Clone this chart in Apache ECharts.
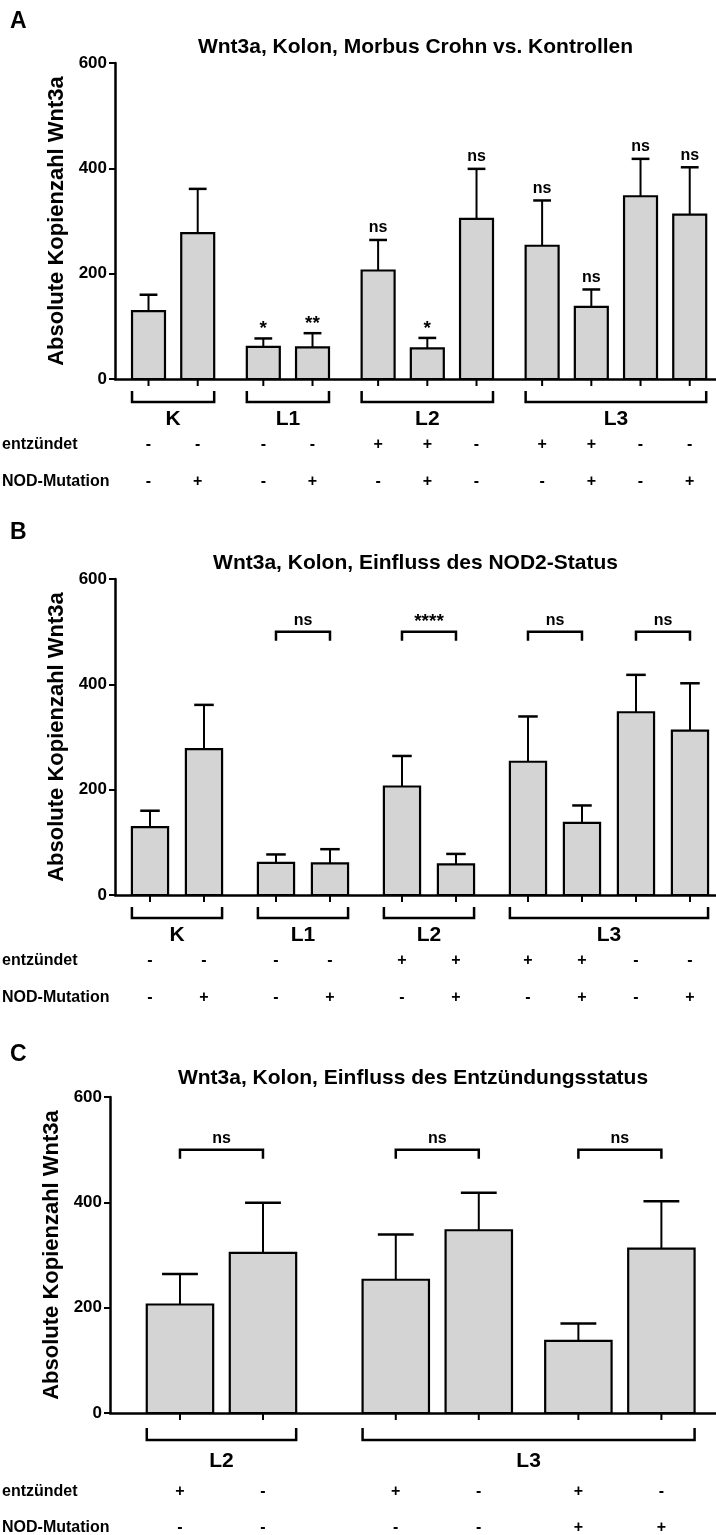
<!DOCTYPE html>
<html><head><meta charset="utf-8">
<script src="https://cdn.jsdelivr.net/npm/echarts@6/dist/echarts.min.js"></script>
<style>html,body{margin:0;padding:0;background:#fff}#c{width:716px;height:1535px}</style>
</head><body><div id="c"></div>
<script>
// ---------- data ----------
const groupNames = ['K', 'L1', 'L2', 'L3'];
const condGroup = [0, 0, 1, 1, 2, 2, 2, 3, 3, 3, 3];
const entzuendet = ['-', '-', '-', '-', '+', '+', '-', '+', '+', '-', '-'];
const nodMutation = ['-', '+', '-', '+', '-', '+', '-', '-', '+', '-', '+'];
const meanCopies = [129, 277, 61, 60, 206, 58, 304, 253, 137, 347, 312];
const semCopies = [31, 84, 16, 27, 58, 20, 95, 86, 33, 71, 90];
const sigVsControl = ['', '', '*', '**', 'ns', '*', 'ns', 'ns', 'ns', 'ns', 'ns'];
const yTicks = [0, 200, 400, 600];
const panelAConds = [0, 1, 2, 3, 4, 5, 6, 7, 8, 9, 10];
const panelBConds = [0, 1, 2, 3, 4, 5, 7, 8, 9, 10];
const panelBComparisons = [[2, 3, 'ns'], [4, 5, '****'], [7, 8, 'ns'], [9, 10, 'ns']];
const panelCConds = [4, 6, 7, 9, 8, 10];
const panelCComparisons = [[4, 6, 'ns'], [7, 9, 'ns'], [8, 10, 'ns']];
const sigBracketLevel = 500;
const titles = ['Wnt3a, Kolon, Morbus Crohn vs. Kontrollen', 'Wnt3a, Kolon, Einfluss des NOD2-Status', 'Wnt3a, Kolon, Einfluss des Entzündungsstatus'];
const panelLetters = ['A', 'B', 'C'];
const yAxisName = 'Absolute Kopienzahl Wnt3a';
const rowLabels = ['entzündet', 'NOD-Mutation'];

// ---------- layout ----------
const FF = '"Liberation Sans", Arial, Helvetica, sans-serif';
const panels = [
  { conds: panelAConds, comps: [], showSig: true, grid: { left: 115, top: 63, width: 601, height: 316 },
    xMin: -0.681, xMax: 11.534, barW: 0.67, gapGroup: 1 / 3, gapPair: 0,
    off: { brTop: 12, brLine: 23, grp: 40, row1: 66, row2: 103 }, titleY: 47, letterY: 22 },
  { conds: panelBConds, comps: panelBComparisons, showSig: false, grid: { left: 115, top: 579, width: 601, height: 316 },
    xMin: -0.648, xMax: 10.482, barW: 0.67, gapGroup: 1 / 3, gapPair: 0,
    off: { brTop: 12, brLine: 23, grp: 40, row1: 66, row2: 103 }, titleY: 563, letterY: 533 },
  { conds: panelCConds, comps: panelCComparisons, showSig: false, grid: { left: 110, top: 1097, width: 606, height: 316 },
    xMin: -0.843, xMax: 6.458, barW: 0.8, gapGroup: 0.6, gapPair: 0.2,
    off: { brTop: 15, brLine: 27, grp: 48, row1: 79, row2: 115 }, titleY: 1078, letterY: 1055 }
];

function positions(p) {
  const pos = [];
  let x = 0, prevG = -1, inGroup = 0;
  p.conds.forEach((c, i) => {
    const g = condGroup[c];
    if (i > 0) {
      x += 1;
      if (g !== prevG) { x += p.gapGroup; inGroup = 0; }
      else { inGroup++; if (inGroup % 2 === 0) x += p.gapPair; }
    }
    pos.push(x);
    prevG = g;
  });
  return pos;
}

function txt(x, y, text, size, align, valign) {
  return { type: 'text', x: x, y: y, style: { text: text, font: 'bold ' + size + 'px ' + FF, fill: '#000',
    align: align, verticalAlign: valign, textAlign: align, textVerticalAlign: valign } };
}

const grids = [], xAxes = [], yAxes = [], series = [], graphics = [];
panels.forEach((p, pi) => {
  grids.push(Object.assign({ containLabel: false }, p.grid));
  xAxes.push({ type: 'value', gridIndex: pi, min: p.xMin, max: p.xMax,
    axisLine: { show: true, onZero: false, lineStyle: { color: '#000', width: 2.5 } },
    axisTick: { show: false }, axisLabel: { show: false }, splitLine: { show: false } });
  yAxes.push({ type: 'value', gridIndex: pi, min: yTicks[0], max: yTicks[yTicks.length - 1],
    interval: yTicks[1] - yTicks[0],
    name: yAxisName, nameLocation: 'middle', nameGap: 46,
    nameTextStyle: { fontFamily: FF, fontWeight: 'bold', fontSize: 22, color: '#000' },
    axisLine: { show: true, onZero: false, lineStyle: { color: '#000', width: 2.5 } },
    axisTick: { show: true, inside: false, length: 6, lineStyle: { color: '#000', width: 2 } },
    axisLabel: { color: '#000', fontFamily: FF, fontWeight: 'bold', fontSize: 17, margin: 8 },
    splitLine: { show: false } });

  const pos = positions(p);
  const posOf = {};
  p.conds.forEach((c, i) => { posOf[c] = pos[i]; });
  const off = p.off;

  // bars + error bars + axis ticks + condition rows
  series.push({
    type: 'custom', xAxisIndex: pi, yAxisIndex: pi, clip: false,
    data: p.conds.map((c, i) => [pos[i], meanCopies[c], meanCopies[c] + semCopies[c], c]),
    renderItem: function (params, api) {
      const x = api.value(0), m = api.value(1), up = api.value(2), c = api.value(3);
      const p0 = api.coord([x, 0]), pm = api.coord([x, m]), pu = api.coord([x, up]);
      const w = api.size([p.barW, 0])[0];
      const cw = w * 0.54;
      const ch = [
        { type: 'line', shape: { x1: p0[0], y1: pm[1], x2: p0[0], y2: pu[1] }, style: { stroke: '#000', lineWidth: 2 } },
        { type: 'line', shape: { x1: p0[0] - cw / 2, y1: pu[1], x2: p0[0] + cw / 2, y2: pu[1] }, style: { stroke: '#000', lineWidth: 2.5 } },
        { type: 'rect', shape: { x: p0[0] - w / 2, y: pm[1], width: w, height: p0[1] - pm[1] }, style: { fill: '#d4d4d4', stroke: '#000', lineWidth: 2.2 } },
        { type: 'line', shape: { x1: p0[0], y1: p0[1], x2: p0[0], y2: p0[1] + 7 }, style: { stroke: '#000', lineWidth: 2 } },
        txt(p0[0], p0[1] + off.row1, entzuendet[c], 16, 'center', 'middle'),
        txt(p0[0], p0[1] + off.row2, nodMutation[c], 16, 'center', 'middle')
      ];
      if (p.showSig && sigVsControl[c]) {
        const s = sigVsControl[c];
        const isStar = s.indexOf('*') >= 0;
        ch.push(txt(p0[0], pu[1] - (isStar ? 0 : 4), s, isStar ? 19 : 16, 'center', 'bottom'));
      }
      return { type: 'group', children: ch };
    }
  });

  // group brackets below axis
  const groupsHere = [];
  p.conds.forEach((c) => { const g = condGroup[c]; if (groupsHere.indexOf(g) < 0) groupsHere.push(g); });
  series.push({
    type: 'custom', xAxisIndex: pi, yAxisIndex: pi, clip: false,
    data: groupsHere.map((g) => {
      const xs = p.conds.filter((c) => condGroup[c] === g).map((c) => posOf[c]);
      return [Math.min.apply(null, xs) - p.barW / 2, Math.max.apply(null, xs) + p.barW / 2, g];
    }),
    renderItem: function (params, api) {
      const a = api.coord([api.value(0), 0]), b = api.coord([api.value(1), 0]);
      const g = api.value(2);
      const y0 = a[1];
      return { type: 'group', children: [
        { type: 'polyline', shape: { points: [[a[0], y0 + off.brTop], [a[0], y0 + off.brLine], [b[0], y0 + off.brLine], [b[0], y0 + off.brTop]] },
          style: { stroke: '#000', lineWidth: 2.5, fill: null } },
        txt((a[0] + b[0]) / 2, y0 + off.grp, groupNames[g], 21, 'center', 'middle')
      ] };
    }
  });

  // comparison brackets
  if (p.comps.length) {
    series.push({
      type: 'custom', xAxisIndex: pi, yAxisIndex: pi, clip: false,
      data: p.comps.map((cp, k) => [posOf[cp[0]], posOf[cp[1]], sigBracketLevel, k]),
      renderItem: function (params, api) {
        const a = api.coord([api.value(0), api.value(2)]), b = api.coord([api.value(1), api.value(2)]);
        const lab = p.comps[api.value(3)][2];
        const isStar = lab.indexOf('*') >= 0;
        return { type: 'group', children: [
          { type: 'polyline', shape: { points: [[a[0], a[1] + 9], [a[0], a[1]], [b[0], b[1]], [b[0], b[1] + 9]] },
            style: { stroke: '#000', lineWidth: 2.5, fill: null } },
          txt((a[0] + b[0]) / 2, a[1] - (isStar ? 0 : 3), lab, isStar ? 19 : 16, 'center', 'bottom')
        ] };
      }
    });
  }

  // titles, letters, row labels
  const cx = p.grid.left + p.grid.width / 2;
  graphics.push(txt(cx, p.titleY, titles[pi], 21, 'center', 'middle'));
  graphics.push(txt(10, p.letterY, panelLetters[pi], 23, 'left', 'middle'));
  const axisY = p.grid.top + p.grid.height;
  graphics.push(txt(2, axisY + off.row1, rowLabels[0], 16, 'left', 'middle'));
  graphics.push(txt(2, axisY + off.row2, rowLabels[1], 16, 'left', 'middle'));
});

const chart = echarts.init(document.getElementById('c'), null, { renderer: 'canvas' });
chart.setOption({
  animation: false,
  backgroundColor: '#fff',
  grid: grids, xAxis: xAxes, yAxis: yAxes, series: series,
  graphic: { elements: graphics }
});
</script></body></html>
